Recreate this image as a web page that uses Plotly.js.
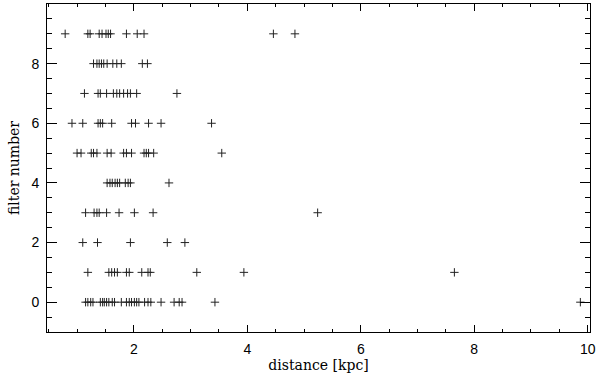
<!DOCTYPE html>
<html>
<head>
<meta charset="utf-8">
<script src="https://cdn.plot.ly/plotly-3.0.1.min.js"></script>
<style>
  html, body { margin: 0; padding: 0; background: #fff; }
  #chart { width: 600px; height: 375px; }
</style>
</head>
<body>
<div id="chart"></div>
<script>
// distances [kpc], one list per filter number
const FILTER_0 = [1.15, 1.19, 1.24, 1.28, 1.41, 1.45, 1.48, 1.52, 1.56, 1.62, 1.66, 1.78, 1.87,
                  1.92, 1.96, 2.01, 2.05, 2.09, 2.19, 2.25, 2.30, 2.48, 2.71, 2.80, 2.85, 3.43, 9.87];
const FILTER_1 = [1.19, 1.56, 1.61, 1.66, 1.71, 1.87, 1.92, 2.14, 2.25, 2.29, 3.11, 3.94, 7.65];
const FILTER_2 = [1.10, 1.36, 1.94, 2.59, 2.90];
const FILTER_3 = [1.15, 1.30, 1.35, 1.39, 1.52, 1.74, 2.01, 2.34, 5.24];
const FILTER_4 = [1.53, 1.58, 1.62, 1.67, 1.71, 1.75, 1.85, 1.90, 1.94, 2.62];
const FILTER_5 = [1.00, 1.07, 1.25, 1.29, 1.35, 1.53, 1.60, 1.82, 1.87, 1.96, 2.18, 2.22, 2.26, 2.35, 3.55];
const FILTER_6 = [0.91, 1.10, 1.37, 1.41, 1.45, 1.61, 1.96, 2.03, 2.26, 2.48, 3.37];
const FILTER_7 = [1.13, 1.37, 1.41, 1.52, 1.64, 1.70, 1.75, 1.82, 1.89, 1.94, 2.05, 2.76];
const FILTER_8 = [1.29, 1.35, 1.39, 1.43, 1.47, 1.53, 1.63, 1.70, 1.78, 2.15, 2.24];
const FILTER_9 = [0.79, 1.19, 1.23, 1.39, 1.44, 1.51, 1.55, 1.59, 1.87, 2.06, 2.18, 4.46, 4.84];

const ROWS = [FILTER_0, FILTER_1, FILTER_2, FILTER_3, FILTER_4,
              FILTER_5, FILTER_6, FILTER_7, FILTER_8, FILTER_9];

const xs = [];
const ys = [];
ROWS.forEach((row, filter) => {
    for (const d of row) {
        xs.push(d);
        ys.push(filter);
    }
});

const data = [{
    x: xs,
    y: ys,
    type: 'scatter',
    mode: 'markers',
    marker: {
        symbol: 'cross-thin',
        size: 6,
        color: '#222',
        line: { color: '#222', width: 1 },
    },
    hoverinfo: 'x+y',
}];

const TITLE_FONT = { family: '"DejaVu Serif"', size: 14, color: '#000' };

const AXIS_BASE = {
    showline: true,
    linecolor: '#000',
    linewidth: 1,
    mirror: 'ticks',
    ticks: 'inside',
    tickcolor: '#000',
    tickwidth: 1,
    showgrid: false,
    zeroline: false,
    tickfont: { family: '"Liberation Sans", Arial, sans-serif', size: 14, color: '#000' },
};

const layout = {
    width: 600,
    height: 375,
    paper_bgcolor: '#fff',
    plot_bgcolor: '#fff',
    margin: { l: 47, r: 10, t: 4, b: 43 },
    showlegend: false,
    xaxis: {
        ...AXIS_BASE,
        range: [0.47, 10.04],
        tick0: 0,
        dtick: 2,
        ticklen: 7,
        ticklabelstandoff: 4,
        minor: { dtick: 0.5, ticks: 'inside', ticklen: 3, tickcolor: '#000', showgrid: false },
        title: { text: 'distance [kpc]', font: TITLE_FONT, standoff: 2 },
    },
    yaxis: {
        ...AXIS_BASE,
        range: [-1, 10],
        tick0: 0,
        dtick: 2,
        ticklen: 10,
        ticklabelstandoff: 4,
        minor: { dtick: 0.5, ticks: 'inside', ticklen: 5, tickcolor: '#000', showgrid: false },
        title: { text: 'filter number', font: TITLE_FONT, standoff: 8 },
    },
};

Plotly.newPlot('chart', data, layout, { displayModeBar: false, staticPlot: true });
</script>
</body>
</html>
